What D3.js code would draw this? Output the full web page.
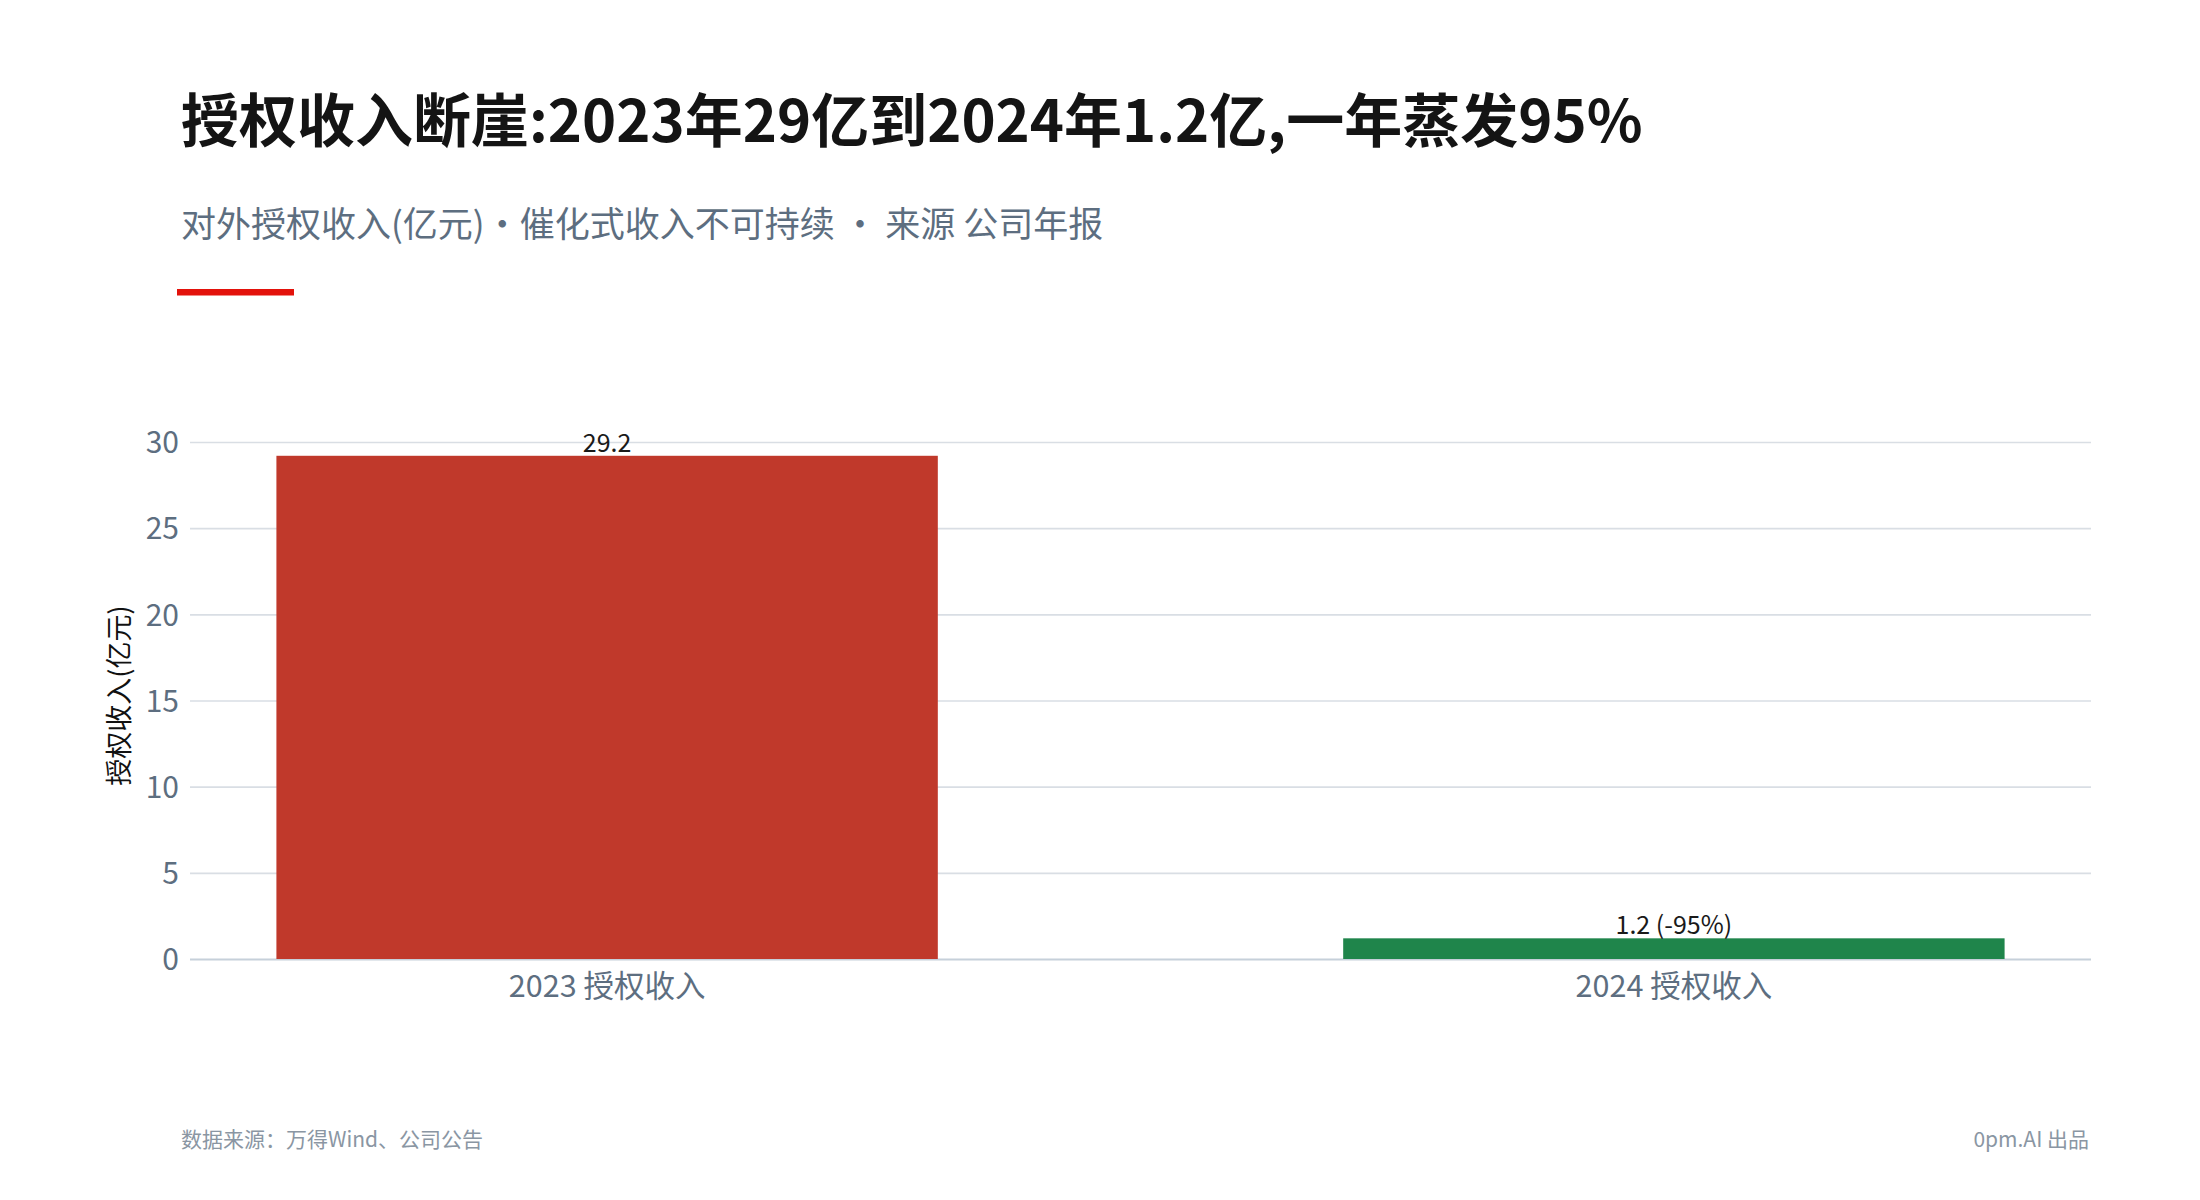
<!DOCTYPE html>
<html>
<head>
<meta charset="utf-8">
<script src="https://cdn.jsdelivr.net/npm/d3@7"></script>
<style>
  html, body { margin: 0; padding: 0; background: #fff; }
  svg text { font-family: "Noto Sans CJK SC", "Noto Sans", sans-serif; }
</style>
</head>
<body>
<div id="chart"></div>
<script>
// data
const categories = ["2023 授权收入", "2024 授权收入"];
const values = [29.2, 1.2];
const valueLabels = ["29.2", "1.2 (-95%)"];
const barColors = ["#c0392b", "#1f854b"];
const yTicks = [0, 5, 10, 15, 20, 25, 30];

const titleText = "授权收入断崖:2023年29亿到2024年1.2亿,一年蒸发95%";
const subtitleText = "对外授权收入(亿元)・催化式收入不可持续 ・ 来源 公司年报";
const yLabel = "授权收入(亿元)";
const sourceText = "数据来源：万得Wind、公司公告";
const creditText = "0pm.AI 出品";

const width = 2200, height = 1200;
const plot = { left: 190, right: 2091, top: 442, bottom: 959 };

const svg = d3.select("#chart").append("svg")
    .attr("width", width)
    .attr("height", height)
    .attr("viewBox", `0 0 ${width} ${height}`);

// header
svg.append("text")
    .attr("x", 181)
    .attr("y", 142)
    .attr("font-size", 58)
    .attr("font-weight", 700)
    .attr("fill", "#141414")
    .text(titleText);

svg.append("text")
    .attr("x", 181)
    .attr("y", 237)
    .attr("font-size", 35)
    .attr("fill", "#5d6e80")
    .text(subtitleText);

svg.append("rect")
    .attr("x", 177)
    .attr("y", 289)
    .attr("width", 117)
    .attr("height", 6.5)
    .attr("fill", "#e3120b");

// scales
const x = d3.scaleBand()
    .domain(categories)
    .range([plot.left, plot.right])
    .paddingInner(0.38)
    .paddingOuter(0.081);

const y = d3.scaleLinear()
    .domain([0, 30])
    .range([plot.bottom, plot.top]);

// y axis with gridlines
const yAxis = svg.append("g")
    .attr("transform", `translate(${plot.left},0)`)
    .call(d3.axisLeft(y)
        .tickValues(yTicks)
        .tickSize(-(plot.right - plot.left))
        .tickPadding(11));

yAxis.select(".domain").remove();
yAxis.selectAll(".tick line")
    .attr("stroke", d => d === 0 ? "#c6d0da" : "#d9dee4")
    .attr("stroke-width", d => d === 0 ? 2 : 1.6);
yAxis.selectAll(".tick text")
    .attr("font-size", 30)
    .attr("fill", "#5d6e80")
    .attr("dy", "0.36em");

// bars
svg.append("g")
    .selectAll("rect")
    .data(values)
    .join("rect")
    .attr("x", (d, i) => x(categories[i]))
    .attr("y", d => y(d))
    .attr("width", x.bandwidth())
    .attr("height", d => y(0) - y(d))
    .attr("fill", (d, i) => barColors[i]);

// value labels
svg.append("g")
    .selectAll("text")
    .data(values)
    .join("text")
    .attr("x", (d, i) => x(categories[i]) + x.bandwidth() / 2)
    .attr("y", d => y(d) - 4)
    .attr("text-anchor", "middle")
    .attr("font-size", 25)
    .attr("fill", "#1a1a1a")
    .text((d, i) => valueLabels[i]);

// x axis
const xAxis = svg.append("g")
    .attr("transform", `translate(0,${plot.bottom})`)
    .call(d3.axisBottom(x).tickSize(0).tickPadding(16));

xAxis.select(".domain").remove();
xAxis.selectAll(".tick text")
    .attr("font-size", 30.5)
    .attr("fill", "#5d6e80");

// y axis title
svg.append("text")
    .attr("transform", `translate(129,${(plot.top + plot.bottom) / 2 - 5}) rotate(-90)`)
    .attr("text-anchor", "middle")
    .attr("font-size", 27)
    .attr("fill", "#111")
    .text(yLabel);

// footer
svg.append("text")
    .attr("x", 181)
    .attr("y", 1147)
    .attr("font-size", 21)
    .attr("fill", "#8a96a3")
    .text(sourceText);

svg.append("text")
    .attr("x", 2089)
    .attr("y", 1147)
    .attr("text-anchor", "end")
    .attr("font-size", 21)
    .attr("fill", "#8a96a3")
    .text(creditText);
</script>
</body>
</html>
